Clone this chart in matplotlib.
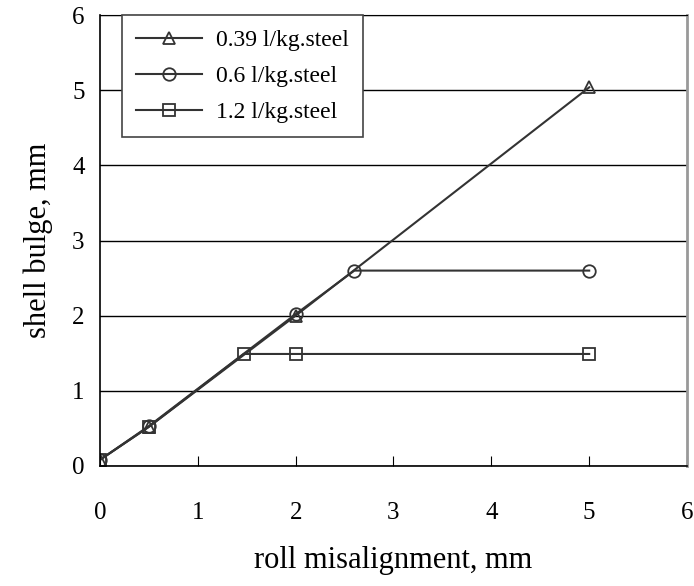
import matplotlib
matplotlib.use('Agg')
import matplotlib.pyplot as plt

plt.rcParams['font.family'] = ['Liberation Serif', 'DejaVu Serif']

# shell bulge vs roll misalignment for three water flow rates
x_039 = [0, 0.5, 2, 5]
y_039 = [0.08, 0.52, 2.0, 5.04]

x_06 = [0, 0.5, 2, 2.6, 5]
y_06 = [0.08, 0.53, 2.02, 2.6, 2.6]

x_12 = [0, 0.5, 1.47, 2, 5]
y_12 = [0.08, 0.52, 1.49, 1.49, 1.49]

labels = ['0.39 l/kg.steel', '0.6 l/kg.steel', '1.2 l/kg.steel']

fig = plt.figure(figsize=(6.94, 5.86), dpi=100)
ax = fig.add_axes([0.144, 0.205, 0.846, 0.769])

mk = dict(color='#333333', lw=1.5, markersize=9, markerfacecolor='none',
          markeredgewidth=1.3, markeredgecolor='#333333')
ax.plot(x_039, y_039, marker='^', label=labels[0], **mk)
ax.plot(x_06, y_06, marker='o', label=labels[1], **mk)
ax.plot(x_12, y_12, marker='s', label=labels[2], **mk)

ax.set_xlim(0, 6)
ax.set_ylim(0, 6)
ax.set_xticks(range(7))
ax.set_yticks(range(7))
ax.yaxis.grid(True, color='black', lw=1.0)
ax.set_axisbelow(True)

for s in ['left', 'bottom']:
    ax.spines[s].set_color('black')
    ax.spines[s].set_linewidth(1.2)
ax.spines['top'].set_color('black')
ax.spines['right'].set_color('#999999')
ax.spines['right'].set_linewidth(2)

ax.tick_params(axis='x', direction='in', length=7, pad=26, labelsize=18)
ax.tick_params(axis='y', direction='out', length=0, pad=11, labelsize=18)

ax.set_xlabel('roll misalignment, mm', fontsize=22, labelpad=16)
ax.set_ylabel('shell bulge, mm', fontsize=22, labelpad=14)

leg = ax.legend(loc='upper left', bbox_to_anchor=(0.037, 1.0), fontsize=17,
                frameon=True, fancybox=False, borderpad=0.6, labelspacing=0.62,
                handlelength=2.8, handletextpad=0.6, borderaxespad=0)
leg.get_frame().set_edgecolor('#444444')
leg.get_frame().set_linewidth(1.2)
leg.get_frame().set_alpha(1)

fig.savefig('out.png', dpi=100)
